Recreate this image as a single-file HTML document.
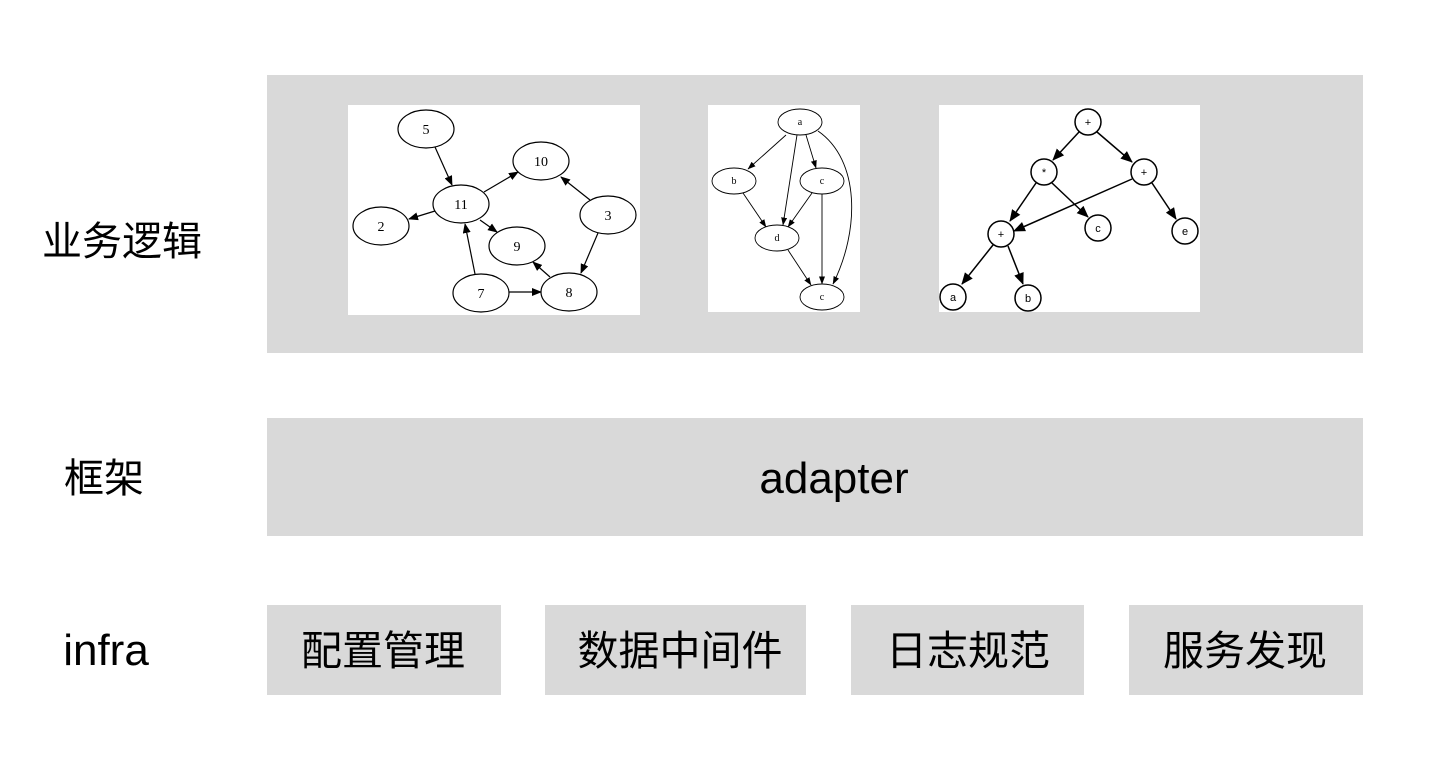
<!DOCTYPE html>
<html><head><meta charset="utf-8"><style>
html,body{margin:0;padding:0;background:#fff;width:1438px;height:774px;overflow:hidden}
svg text{font-family:"Liberation Sans","Noto Sans CJK SC",sans-serif}
.g text{font-family:"Liberation Serif","Noto Serif CJK SC",serif;fill:#000}
</style></head><body>
<svg width="1438" height="774" viewBox="0 0 1438 774" xmlns="http://www.w3.org/2000/svg">
<defs>
<marker id="ar" markerWidth="10" markerHeight="8" refX="9" refY="4" orient="auto" markerUnits="userSpaceOnUse"><path d="M0,0 L10,4 L0,8 z" fill="#000"/></marker>
<marker id="as" markerWidth="8" markerHeight="6" refX="7.5" refY="3" orient="auto" markerUnits="userSpaceOnUse"><path d="M0,0 L8,3 L0,6 z" fill="#000"/></marker>
<marker id="ab" markerWidth="12" markerHeight="10" refX="11" refY="5" orient="auto" markerUnits="userSpaceOnUse"><path d="M0,0 L12,5 L0,10 z" fill="#000"/></marker>
</defs>
<rect x="267" y="75" width="1096" height="278" fill="#d9d9d9"/>
<rect x="267" y="418" width="1096" height="118" fill="#d9d9d9"/>
<rect x="267" y="605" width="234" height="90" fill="#d9d9d9"/>
<rect x="545" y="605" width="261" height="90" fill="#d9d9d9"/>
<rect x="851" y="605" width="233" height="90" fill="#d9d9d9"/>
<rect x="1129" y="605" width="234" height="90" fill="#d9d9d9"/>

<text x="122" y="255" font-size="40" text-anchor="middle" fill="#000">业务逻辑</text>
<text x="104" y="492" font-size="40" text-anchor="middle" fill="#000">框架</text>
<text x="106" y="665" font-size="44" text-anchor="middle" fill="#000">infra</text>
<text x="834" y="493" font-size="44" text-anchor="middle" fill="#000">adapter</text>
<text x="383" y="665" font-size="41" text-anchor="middle" fill="#000">配置管理</text>
<text x="680" y="665" font-size="41" text-anchor="middle" fill="#000">数据中间件</text>
<text x="968" y="665" font-size="41" text-anchor="middle" fill="#000">日志规范</text>
<text x="1245" y="665" font-size="41" text-anchor="middle" fill="#000">服务发现</text>

<g class="g" stroke="#000" stroke-width="1.2" fill="none">
<rect x="348" y="105" width="292" height="210" fill="#fff" stroke="none"/>
<line x1="435" y1="147" x2="452" y2="185" marker-end="url(#ar)"/>
<line x1="484" y1="192" x2="518" y2="172" marker-end="url(#ar)"/>
<line x1="435" y1="211" x2="409" y2="219" marker-end="url(#ar)"/>
<line x1="480" y1="220" x2="497" y2="232" marker-end="url(#ar)"/>
<line x1="590" y1="200" x2="561" y2="177" marker-end="url(#ar)"/>
<line x1="598" y1="233" x2="581" y2="273" marker-end="url(#ar)"/>
<line x1="475" y1="274" x2="465" y2="224" marker-end="url(#ar)"/>
<line x1="509" y1="292" x2="541" y2="292" marker-end="url(#ar)"/>
<line x1="550" y1="277" x2="533" y2="262" marker-end="url(#ar)"/>
<ellipse cx="426" cy="129" rx="28" ry="19" fill="#fff"/>
<ellipse cx="541" cy="161" rx="28" ry="19" fill="#fff"/>
<ellipse cx="461" cy="204" rx="28" ry="19" fill="#fff"/>
<ellipse cx="381" cy="226" rx="28" ry="19" fill="#fff"/>
<ellipse cx="608" cy="215" rx="28" ry="19" fill="#fff"/>
<ellipse cx="517" cy="246" rx="28" ry="19" fill="#fff"/>
<ellipse cx="481" cy="293" rx="28" ry="19" fill="#fff"/>
<ellipse cx="569" cy="292" rx="28" ry="19" fill="#fff"/>
</g>
<g class="g" font-size="14" text-anchor="middle">
<text x="426" y="134">5</text><text x="541" y="166">10</text><text x="461" y="209">11</text>
<text x="381" y="231">2</text><text x="608" y="220">3</text><text x="517" y="251">9</text>
<text x="481" y="298">7</text><text x="569" y="297">8</text>
</g>

<g class="g" stroke="#000" stroke-width="0.9" fill="none">
<rect x="708" y="105" width="152" height="207" fill="#fff" stroke="none"/>
<line x1="786" y1="135" x2="748" y2="169" marker-end="url(#as)"/>
<line x1="797" y1="135" x2="783" y2="225" marker-end="url(#as)"/>
<line x1="806" y1="135" x2="816" y2="168" marker-end="url(#as)"/>
<path d="M818,131 C860,160 860,230 833,284" marker-end="url(#as)"/>
<line x1="743" y1="193" x2="766" y2="227" marker-end="url(#as)"/>
<line x1="812" y1="193" x2="788" y2="227" marker-end="url(#as)"/>
<line x1="822" y1="194" x2="822" y2="284" marker-end="url(#as)"/>
<line x1="788" y1="250" x2="811" y2="285" marker-end="url(#as)"/>
<ellipse cx="800" cy="122" rx="22" ry="13" fill="#fff"/>
<ellipse cx="734" cy="181" rx="22" ry="13" fill="#fff"/>
<ellipse cx="822" cy="181" rx="22" ry="13" fill="#fff"/>
<ellipse cx="777" cy="238" rx="22" ry="13" fill="#fff"/>
<ellipse cx="822" cy="297" rx="22" ry="13" fill="#fff"/>
</g>
<g class="g" font-size="10" text-anchor="middle">
<text x="800" y="125">a</text><text x="734" y="184">b</text><text x="822" y="184">c</text>
<text x="777" y="241">d</text><text x="822" y="300">c</text>
</g>

<g class="g" stroke="#000" stroke-width="1.5" fill="none">
<rect x="939" y="105" width="261" height="207" fill="#fff" stroke="none"/>
<line x1="1079" y1="132" x2="1053" y2="160" marker-end="url(#ab)"/>
<line x1="1097" y1="132" x2="1132" y2="162" marker-end="url(#ab)"/>
<line x1="1036" y1="183" x2="1010" y2="221" marker-end="url(#ab)"/>
<line x1="1052" y1="183" x2="1088" y2="217" marker-end="url(#ab)"/>
<line x1="1132" y1="179" x2="1014" y2="231" marker-end="url(#ab)"/>
<line x1="1152" y1="183" x2="1176" y2="219" marker-end="url(#ab)"/>
<line x1="993" y1="245" x2="962" y2="284" marker-end="url(#ab)"/>
<line x1="1008" y1="246" x2="1023" y2="284" marker-end="url(#ab)"/>
<circle cx="1088" cy="122" r="13" fill="#fff"/>
<circle cx="1044" cy="172" r="13" fill="#fff"/>
<circle cx="1144" cy="172" r="13" fill="#fff"/>
<circle cx="1001" cy="234" r="13" fill="#fff"/>
<circle cx="1098" cy="228" r="13" fill="#fff"/>
<circle cx="1185" cy="231" r="13" fill="#fff"/>
<circle cx="953" cy="297" r="13" fill="#fff"/>
<circle cx="1028" cy="298" r="13" fill="#fff"/>
</g>
<g font-size="11" text-anchor="middle" fill="#000" font-family="Liberation Sans,sans-serif">
<text x="1088" y="126">+</text><text x="1044" y="176">*</text><text x="1144" y="176">+</text>
<text x="1001" y="238">+</text><text x="1098" y="232">c</text><text x="1185" y="235">e</text>
<text x="953" y="301">a</text><text x="1028" y="302">b</text>
</g>
</svg>
</body></html>
